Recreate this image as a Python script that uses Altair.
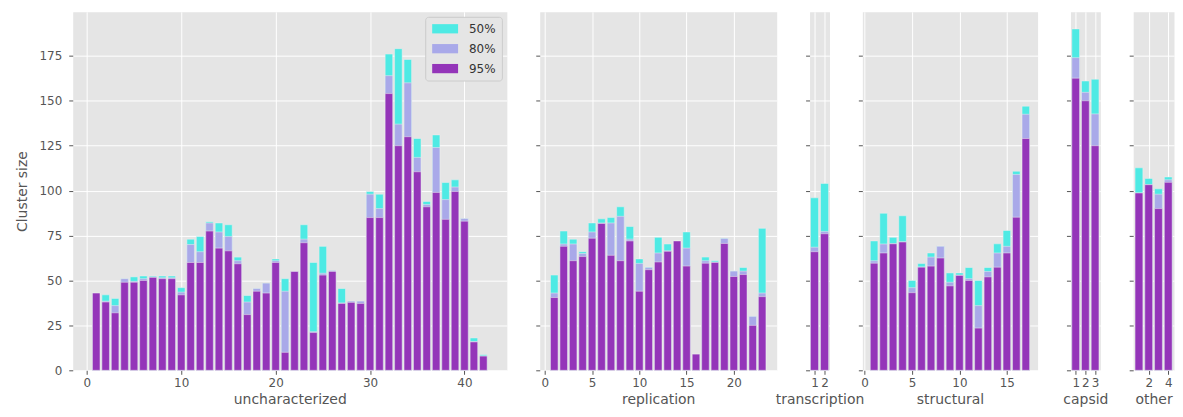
import altair as alt
import pandas as pd

levels = ["50%", "80%", "95%"]
level_colors = ["#4EEAE4", "#A9A9E9", "#9435B9"]
y_ticks = [0, 25, 50, 75, 100, 125, 150, 175]

unchar_50 = [43, 42, 40, 51, 52, 52.5, 52.5, 52.5, 52.5, 46, 73, 74.5, 82.7, 82, 81, 63, 41.6, 45.5, 48.5, 62,
             51, 55, 81, 60, 69, 55.6, 45.5, 38.5, 38.5, 99.5, 98, 176, 179, 173, 129, 94, 131, 104.5, 106, 84.5,
             18, 8.7]
unchar_80 = [43, 38.5, 36, 51, 49.5, 51, 52, 51.5, 51.5, 43.5, 70, 66, 82, 77, 74.5, 61, 38, 45.5, 48.5, 61,
             44, 55, 73, 21.5, 54, 55.6, 37.5, 38.5, 38.5, 98, 90, 164, 137, 160, 118.5, 92.3, 124, 95, 102, 84.5,
             16, 8]
unchar_95 = [43, 38, 32, 49, 49, 50, 51.7, 51, 51, 42, 60, 60, 77.5, 68, 66.5, 59.3, 31, 44, 43, 60,
             10, 55, 71, 21, 53, 55, 37.2, 37.8, 37.2, 85, 85, 154, 125, 130, 110.5, 91, 99, 84, 99.5, 83,
             15.8, 7.9]

repl_50 = [53, 77.5, 73, 66, 82, 84.3, 85, 91, 80, 62, 57.5, 74, 70.3, 72, 77, 9, 63, 61, 73.5, 55.3, 57.2, 30, 79]
repl_80 = [43, 70.3, 70.3, 65, 77, 82, 82, 85.7, 73, 59.5, 57.2, 65.3, 66.5, 72, 68, 9, 61, 60.3, 73.4, 55.2, 55.2, 30, 43]
repl_95 = [40.5, 69, 61, 63.3, 73.5, 81.7, 64, 61, 72, 44, 56, 60.3, 66.2, 72, 58, 9, 59.6, 60, 70.6, 52.2, 53.3, 25, 41]

trans_50 = [96, 104]
trans_80 = [68.5, 77.3]
trans_95 = [66, 76]

struct_50 = [72, 87.4, 74, 86, 50, 59.4, 65.3, 69, 54.2, 54.2, 57.2, 50, 57.2, 70.4, 77.8, 110.8, 147]
struct_80 = [61, 70.3, 70.5, 71.5, 46, 57.5, 63, 69, 49, 53, 51, 36, 55, 65.3, 69, 109, 142.5]
struct_95 = [59.6, 65.3, 70.4, 71.4, 43.2, 57.4, 58, 62.5, 47, 52.8, 50, 23.5, 52, 57.4, 65.3, 85.2, 129]

capsid_50 = [190, 161, 162]
capsid_80 = [174, 154.7, 142.7]
capsid_95 = [162.6, 150, 125]

other_50 = [112.7, 106.8, 101, 107.6]
other_80 = [98.7, 103.3, 98, 106]
other_95 = [98.7, 103.3, 90, 104.6]

panels_spec = [
    ("uncharacterized", unchar_50, unchar_80, unchar_95, 436, [-1.49, 44.49], [0, 10, 20, 30, 40]),
    ("replication", repl_50, repl_80, repl_95, 238, [-0.54, 24.54], [0, 5, 10, 15, 20]),
    ("transcription", trans_50, trans_80, trans_95, 20, [0.51, 2.49], [1, 2]),
    ("structural", struct_50, struct_80, struct_95, 176, [-0.24, 18.24], [0, 5, 10, 15]),
    ("capsid", capsid_50, capsid_80, capsid_95, 30, [0.46, 3.54], [1, 2, 3]),
    ("other", other_50, other_80, other_95, 41, [0.41, 4.59], [2, 4]),
]


def make_panel(name, v50, v80, v95, width, domain, ticks, first):
    rows = []
    for k, (lvl, vals) in enumerate(zip(levels, [v50, v80, v95])):
        for i, v in enumerate(vals):
            rows.append({"idx": i + 1, "level": lvl, "rank": k, "value": v})
    df = pd.DataFrame(rows)

    y_axis_kw = dict(values=y_ticks, labelPadding=7)
    if first:
        y_axis_kw.update(title="Cluster size", titlePadding=10)
    else:
        y_axis_kw.update(title="", labels=False)

    if first:
        legend = alt.Legend(
            title=None, orient="top-right", offset=5, padding=6,
            fillColor="#E5E5E5", strokeColor="#CCCCCC", cornerRadius=3,
            symbolType="M-2.6,-0.93H2.6V0.93H-2.6Z", symbolSize=100, symbolStrokeWidth=0,
            symbolOffset=8, symbolOpacity=1,
            labelFontSize=12, labelColor="#333333", labelFont="DejaVu Sans",
            labelOffset=18, rowPadding=8,
        )
        color = alt.Color("level:N", scale=alt.Scale(domain=levels, range=level_colors), legend=legend)
    else:
        color = alt.Color("level:N", scale=alt.Scale(domain=levels, range=level_colors), legend=None)

    return (
        alt.Chart(df)
        .transform_calculate(x0="datum.idx - 0.4", x1="datum.idx + 0.4")
        .mark_bar(stroke="#EEEEEE", strokeWidth=0.5, opacity=1)
        .encode(
            x=alt.X("x0:Q", scale=alt.Scale(domain=domain, nice=False, zero=False),
                    axis=alt.Axis(values=ticks, title=name, format="d")),
            x2="x1:Q",
            y=alt.Y("value:Q", stack=None, scale=alt.Scale(domain=[0, 199.5], nice=False),
                    axis=alt.Axis(**y_axis_kw)),
            y2=alt.datum(0),
            color=color,
            order=alt.Order("rank:Q", sort="ascending"),
        )
        .properties(width=width, height=360)
    )


charts = [make_panel(*spec, first=(i == 0)) for i, spec in enumerate(panels_spec)]

chart = (
    alt.hconcat(*charts, spacing=33, bounds="flush")
    .resolve_scale(x="independent", color="independent")
    .resolve_legend(color="independent")
    .properties(padding={"left": 6, "top": 2, "right": 0, "bottom": -1})
    .configure_view(fill="#E5E5E5", stroke="transparent")
    .configure_axis(
        domain=False, grid=True, gridColor="white", gridWidth=1,
        tickColor="#555555", tickSize=4, tickWidth=1,
        labelColor="#555555", labelFont="DejaVu Sans", labelFontSize=12, labelPadding=3,
        titleColor="#555555", titleFont="DejaVu Sans", titleFontSize=14, titleFontWeight="normal",
        titlePadding=4,
    )
)

chart.save("out.html", embed_options={"renderer": "svg", "actions": False})
